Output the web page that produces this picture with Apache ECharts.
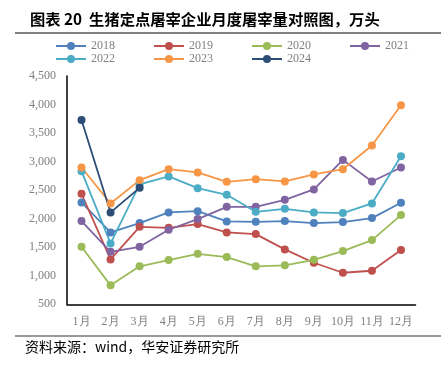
<!DOCTYPE html>
<html><head><meta charset="utf-8">
<script src="https://cdn.jsdelivr.net/npm/echarts@6/dist/echarts.min.js"></script>
<style>html,body{margin:0;padding:0;background:#fff}#c{width:441px;height:365px}</style>
</head><body><div id="c"></div>
<script>
const categories = ['1月','2月','3月','4月','5月','6月','7月','8月','9月','10月','11月','12月'];
const yTicks = [500,1000,1500,2000,2500,3000,3500,4000,4500];
const s2018 = [2285,1760,1923,2110,2132,1952,1945,1958,1923,1940,2010,2278];
const s2019 = [2435,1287,1858,1840,1905,1760,1730,1462,1228,1053,1088,1450];
const s2020 = [1508,832,1165,1275,1385,1328,1165,1182,1280,1433,1625,2063];
const s2021 = [1958,1420,1508,1806,1993,2208,2208,2330,2512,3030,2652,2897];
const s2022 = [2832,1567,2600,2740,2535,2418,2120,2173,2110,2098,2267,3095];
const s2023 = [2897,2267,2675,2867,2810,2645,2692,2652,2775,2867,3282,3987];
const s2024 = [3730,2110,2540];
const seriesNames = ['2018','2019','2020','2021','2022','2023','2024'];
const seriesData = [s2018,s2019,s2020,s2021,s2022,s2023,s2024];
const colors = ['#4F81BD','#C0504D','#9BBB59','#8064A2','#4BACC6','#F79646','#2C4D75'];

const chart = echarts.init(document.getElementById('c'), null, {renderer:'canvas'});
const serif = '"Liberation Serif","Times New Roman",serif';
const legendCommon = {
  itemWidth: 30, itemHeight: 10, itemGap: 38,
  textStyle: {color:'#7f7f7f', fontFamily: serif, fontSize: 12}
};
chart.setOption({
  animation: false,
  color: colors,
  title: {
    text: '图表 20  生猪定点屠宰企业月度屠宰量对照图，万头',
    left: 25, top: 7,
    textStyle: {fontSize: 15.3, fontWeight: 'bold', color: '#000', fontFamily: '"Noto Sans CJK SC",sans-serif'}
  },
  graphic: [
    {type:'line', shape:{x1:15,y1:33,x2:441,y2:33}, style:{stroke:'#000',lineWidth:1}},
    {type:'line', shape:{x1:15,y1:336,x2:441,y2:336}, style:{stroke:'#999',lineWidth:2}},
    {type:'text', left:25, top:340, style:{text:'资料来源：wind，华安证券研究所', fontSize:14, fill:'#000', fontFamily:'"Noto Sans CJK SC",sans-serif'}}
  ],
  legend: [
    Object.assign({left: 50, top: 35, data: seriesNames.slice(0,4)}, legendCommon),
    Object.assign({left: 50, top: 48, data: seriesNames.slice(4)}, legendCommon)
  ],
  grid: {left: 67, right: 25.5, top: 76, bottom: 60.7},
  xAxis: {
    type: 'category', data: categories, boundaryGap: true,
    axisLine: {lineStyle: {color: '#000', width: 1.5}},
    axisTick: {show: false},
    axisLabel: {color: '#7f7f7f', fontFamily: serif, fontSize: 12, margin: 12, interval: 0}
  },
  yAxis: {
    type: 'value', min: yTicks[0], max: yTicks[yTicks.length-1], interval: 500,
    axisLine: {show: true, lineStyle: {color: '#000', width: 1.5}},
    axisTick: {show: false},
    splitLine: {show: false},
    axisLabel: {color: '#7f7f7f', fontFamily: serif, fontSize: 12, margin: 11,
      formatter: v => v.toLocaleString('en-US')}
  },
  series: seriesNames.map((n,i) => ({
    name: n, type: 'line', data: seriesData[i],
    symbol: 'circle', symbolSize: 8, showAllSymbol: true,
    lineStyle: {width: 1.8, color: colors[i]},
    itemStyle: {color: colors[i]}
  }))
});
</script></body></html>
